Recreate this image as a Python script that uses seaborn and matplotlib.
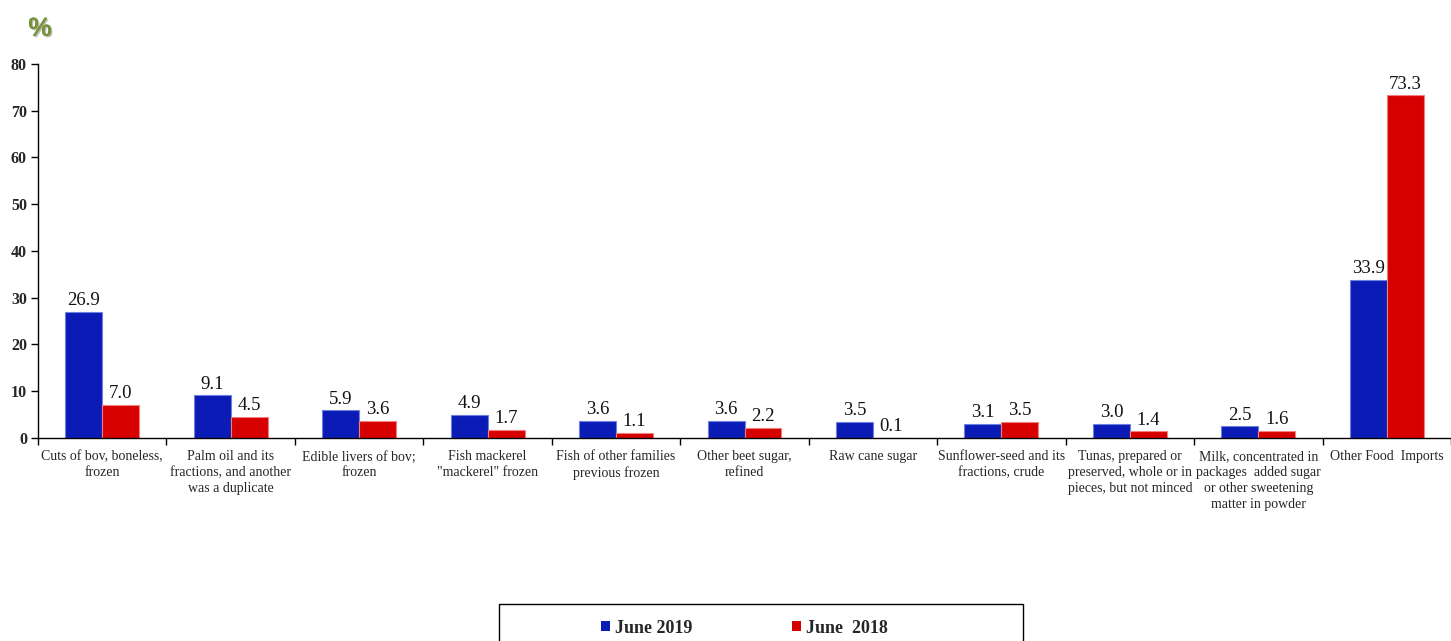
import pandas as pd
import matplotlib.pyplot as plt
import matplotlib.patheffects as pe
from matplotlib.patches import Rectangle
import seaborn as sns

# данные с графика
categories = [
    "Cuts of bov, boneless,\nfrozen",
    "Palm oil and its\nfractions, and another\nwas a duplicate",
    "Edible livers of bov;\nfrozen",
    "Fish mackerel\n\"mackerel\" frozen",
    "Fish of other families\nprevious frozen",
    "Other beet sugar,\nrefined",
    "Raw cane sugar",
    "Sunflower-seed and its\nfractions, crude",
    "Tunas, prepared or\npreserved, whole or in\npieces, but not minced",
    "Milk, concentrated in\npackages  added sugar\nor other sweetening\nmatter in powder",
    "Other Food  Imports",
]
june_2019 = [26.9, 9.1, 5.9, 4.9, 3.6, 3.6, 3.5, 3.1, 3.0, 2.5, 33.9]
june_2018 = [7.0, 4.5, 3.6, 1.7, 1.1, 2.2, 0.1, 3.5, 1.4, 1.6, 73.3]
series_names = ["June 2019", "June  2018"]
colors = ["#0A1BB6", "#D70000"]
edge_colors = ["#7080E0", "#F08080"]

df = pd.DataFrame({
    "category": categories * 2,
    "value": june_2019 + june_2018,
    "series": [series_names[0]] * len(categories) + [series_names[1]] * len(categories),
})

sns.set_theme(style="white")
plt.rcParams['font.family'] = ['Liberation Serif', 'DejaVu Serif']

fig = plt.figure(figsize=(14.51, 6.41), dpi=100)
ax = fig.add_axes([0.0262, 0.3167, 0.9738, 0.5835])

sns.barplot(data=df, x="category", y="value", hue="series", palette=colors,
            saturation=1, width=0.575, linewidth=0, ax=ax, legend=True)

for cont, ec in zip(ax.containers, edge_colors):
    for bar in cont:
        bar.set_edgecolor(ec)
        bar.set_linewidth(0.8)
    ax.bar_label(cont, fmt="%.1f", padding=2, fontsize=13.5, color="#111111")

ax.set_xlim(-0.5, len(categories) - 0.5)
ax.set_ylim(0, 80)
ax.set_yticks(range(0, 81, 10))
ax.set_xlabel("")
ax.set_ylabel("")

# подписи категорий без засечек, засечки на границах
ax.set_xticks(range(len(categories)))
ax.set_xticklabels(categories, fontsize=10, linespacing=1.28)
ax.tick_params(axis="x", which="major", length=0, pad=9)
ax.set_xticks([i - 0.5 for i in range(len(categories) + 1)], minor=True)
ax.tick_params(axis="x", which="minor", length=5, width=1, color="black", direction="out", bottom=True)
ax.tick_params(axis="y", length=5, width=1, color="black", direction="out", left=True, labelsize=11.5, pad=3)
for lbl in ax.get_yticklabels():
    lbl.set_fontweight("bold")

for side in ["top", "right"]:
    ax.spines[side].set_visible(False)
for side in ["left", "bottom"]:
    ax.spines[side].set_color("black")
    ax.spines[side].set_linewidth(1)
ax.grid(False)

# знак процента
fig.text(0.0276, 0.955, "%", fontsize=19, fontweight="bold", color="#76933C",
         family="Liberation Sans", ha="center", va="center",
         path_effects=[pe.withSimplePatchShadow(offset=(1, -1), alpha=0.3), pe.Normal()])

# легенда
handles, labels = ax.get_legend_handles_labels()
ax.get_legend().remove()
fig.legend(handles, labels, loc="center", bbox_to_anchor=(0.513, 0.02), ncol=2,
           frameon=False, handlelength=0.5, handleheight=0.5, handletextpad=0.3,
           columnspacing=5.5, prop={"family": "Liberation Serif", "weight": "bold", "size": 13})
fig.patches.append(Rectangle((0.344, -0.05), 0.361, 0.1077, transform=fig.transFigure,
                             fill=False, edgecolor="black", linewidth=1))

fig.savefig("out.png", dpi=100)
plt.close(fig)
